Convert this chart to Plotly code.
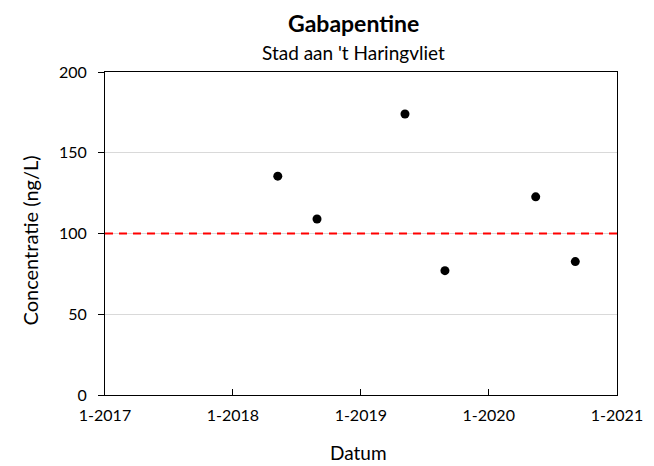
import plotly.graph_objects as go

dates = ["2018-05-09", "2018-08-29", "2019-05-07", "2019-08-29", "2020-05-14", "2020-09-04"]
values = [135.5, 109, 174, 77, 122.7, 82.6]
norm_value = 100
x_tickvals = ["2017-01-01", "2018-01-01", "2019-01-01", "2020-01-01", "2021-01-01"]
x_ticktext = ["1-2017", "1-2018", "1-2019", "1-2020", "1-2021"]
y_tickvals = [0, 50, 100, 150, 200]

font_family = "Lato, Open Sans, sans-serif"

fig = go.Figure()
fig.add_trace(go.Scatter(
    x=dates, y=values, mode="markers",
    marker=dict(color="black", size=9),
    showlegend=False, cliponaxis=False,
))
fig.add_shape(type="line", xref="paper", x0=0, x1=1, yref="y", y0=norm_value, y1=norm_value,
              line=dict(color="#ff0000", width=2, dash="8px,6px"))

fig.update_layout(
    width=654, height=466,
    margin=dict(l=97, r=45, t=64, b=79),
    paper_bgcolor="white", plot_bgcolor="white",
    font=dict(family=font_family, color="black", size=15),
    annotations=[
        dict(text="<b>Gabapentine</b>", xref="paper", yref="paper", x=0.486, y=1,
             yanchor="middle", yshift=49, showarrow=False, font=dict(size=23, family=font_family)),
        dict(text="Stad aan 't Haringvliet", xref="paper", yref="paper", x=0.486, y=1,
             yanchor="middle", yshift=20, showarrow=False, font=dict(size=19, family=font_family)),
        dict(text="Concentratie (ng/L)", xref="paper", yref="paper", x=0, y=0.5,
             xanchor="center", yanchor="middle", xshift=-76, yshift=-7, textangle=-90,
             showarrow=False, font=dict(size=20, family=font_family)),
        dict(text="Datum", xref="paper", yref="paper", x=0.496, y=0,
             xanchor="center", yanchor="middle", yshift=-57,
             showarrow=False, font=dict(size=19, family=font_family)),
    ],
    xaxis=dict(
        type="date", range=["2017-01-01", "2021-01-01"],
        tickvals=x_tickvals, ticktext=x_ticktext,
        showgrid=False, zeroline=False,
        showline=True, linecolor="black", linewidth=1, mirror=True,
        ticks="inside", ticklen=6, tickcolor="black",
        tickfont=dict(size=16), ticklabelstandoff=6,
    ),
    yaxis=dict(
        range=[0, 200], tickvals=y_tickvals,
        showgrid=True, gridcolor="#d9d9d9", gridwidth=1, zeroline=False,
        showline=True, linecolor="black", linewidth=1, mirror=True,
        ticks="outside", ticklen=6, tickcolor="black",
        tickfont=dict(size=16), ticklabelstandoff=8,
    ),
)

fig.write_html("out.html")
